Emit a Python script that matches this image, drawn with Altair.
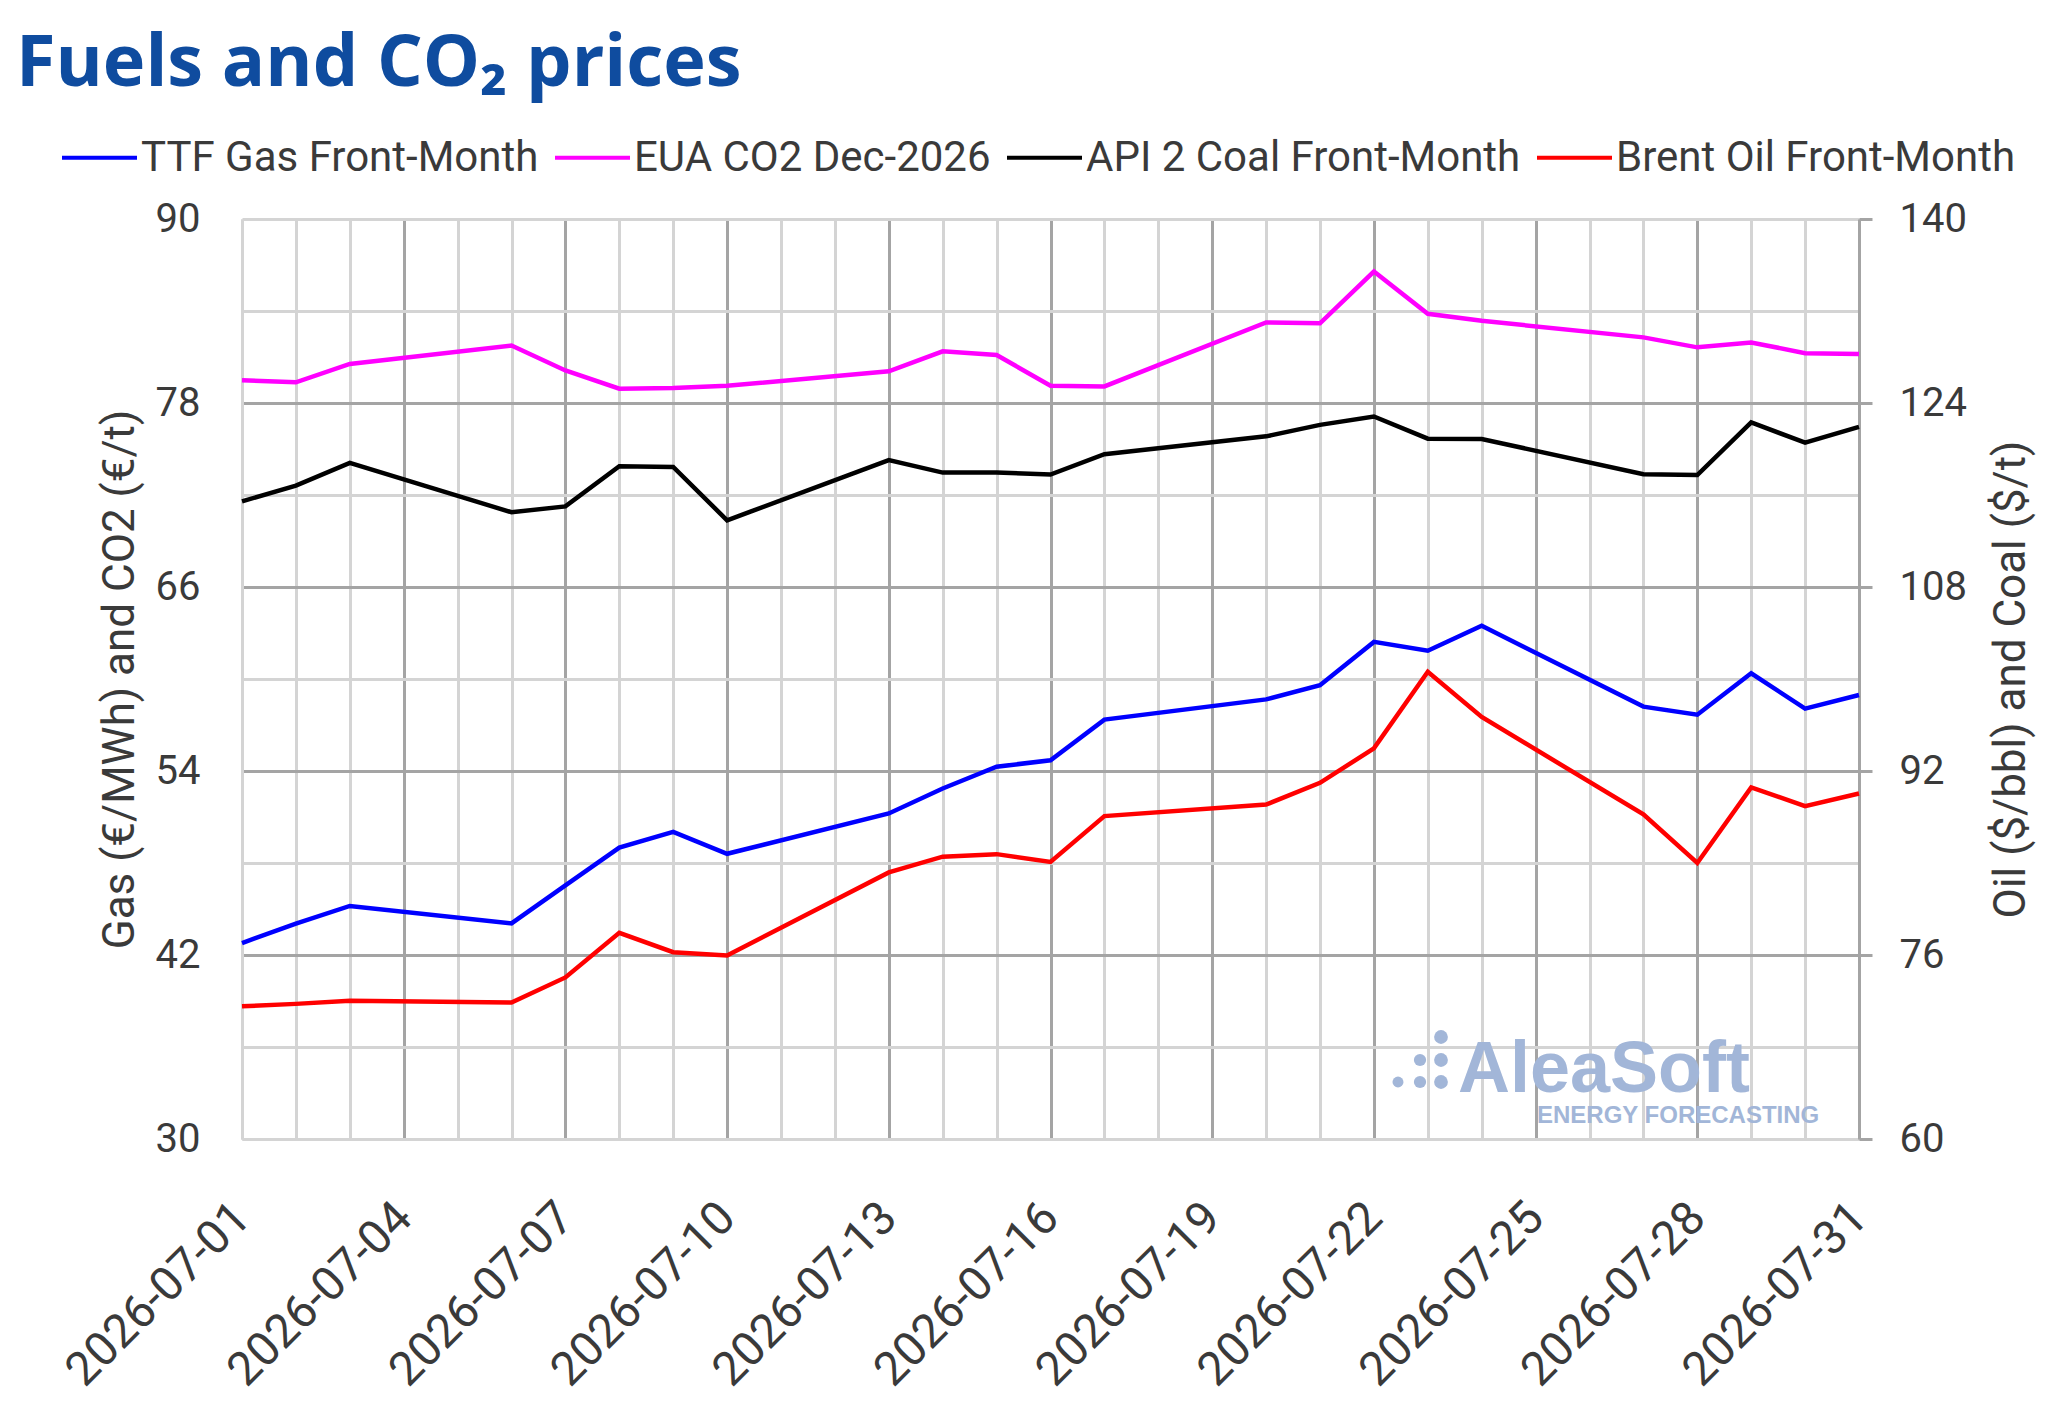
import altair as alt
import pandas as pd

# ---------------- data ----------------
dates = [
    "2026-07-01", "2026-07-02", "2026-07-03", "2026-07-06", "2026-07-07",
    "2026-07-08", "2026-07-09", "2026-07-10", "2026-07-13", "2026-07-14",
    "2026-07-15", "2026-07-16", "2026-07-17", "2026-07-20", "2026-07-21",
    "2026-07-22", "2026-07-23", "2026-07-24", "2026-07-27", "2026-07-28",
    "2026-07-29", "2026-07-30", "2026-07-31",
]
ttf_gas = [42.78, 44.05, 45.2, 44.06, 46.54, 49.0, 50.03, 48.6, 51.23, 52.86,
           54.28, 54.7, 57.35, 58.67, 59.6, 62.42, 61.84, 63.47, 58.2, 57.67,
           60.37, 58.07, 58.96]
eua_co2 = [79.48, 79.35, 80.55, 81.75, 80.12, 78.93, 78.98, 79.12, 80.07, 81.37,
           81.13, 79.13, 79.08, 83.25, 83.2, 86.57, 83.82, 83.36, 82.28, 81.63,
           81.95, 81.25, 81.2]
api2_coal = [115.45, 116.81, 118.79, 114.5, 115.01, 118.5, 118.44, 113.8, 119.04,
             117.95, 117.95, 117.78, 119.55, 121.1, 122.1, 122.83, 120.9, 120.87,
             117.81, 117.74, 122.31, 120.55, 121.92]
brent_oil = [71.54, 71.75, 72.03, 71.87, 74.05, 77.93, 76.24, 75.96, 83.18, 84.55,
             84.77, 84.09, 88.08, 89.08, 90.97, 93.97, 100.63, 96.7, 88.23, 84.0,
             90.57, 88.95, 90.04]

series_names = ["TTF Gas Front-Month", "EUA CO2 Dec-2026",
                "API 2 Coal Front-Month", "Brent Oil Front-Month"]
series_colors = ["#0000ff", "#ff00ff", "#000000", "#ff0000"]

left_ticks = [30, 36, 42, 48, 54, 60, 66, 72, 78, 84, 90]
right_ticks = [60, 76, 92, 108, 124, 140]
month_days = list(range(1, 32))

title_text = "Fuels and CO₂ prices"
left_title = "Gas (€/MWh) and CO2 (€/t)"
right_title = "Oil ($/bbl) and Coal ($/t)"
brand = "AleaSoft"
brand_sub = "ENERGY FORECASTING"

# ---------------- tables ----------------
n = len(dates)
left_df = pd.DataFrame({
    "date": dates * 2,
    "series": [series_names[0]] * n + [series_names[1]] * n,
    "value": ttf_gas + eua_co2,
})
right_df = pd.DataFrame({
    "date": dates * 2,
    "series": [series_names[2]] * n + [series_names[3]] * n,
    "value": api2_coal + brent_oil,
})
one_row = pd.DataFrame({"k": [0]})

LIGHT = "#d4d4d4"
DARK = "#a4a4a4"
TXT = "#3a3a3a"
FONT = "Roboto"

W, H = 1617, 920

day_values = [alt.DateTime(year=2026, month=7, date=d, utc=True) for d in month_days]

x_enc = alt.X(
    "date:T",
    scale=alt.Scale(type="utc", nice=False,
                    domain=[alt.DateTime(year=2026, month=7, date=1, utc=True),
                            alt.DateTime(year=2026, month=7, date=31, utc=True)]),
    axis=alt.Axis(
        title=None, values=day_values,
        labelExpr="(utcdate(datum.value) - 1) % 3 == 0 ? utcFormat(datum.value, '%Y-%m-%d') : ''",
        labelAngle=-45, labelAlign="right", labelBaseline="top",
        labelFontSize=47, labelPadding=55, labelOffset=-16,
        labelOverlap=False, labelFlush=False,
        labelLimit=1000, labelColor=TXT, labelFont=FONT,
        ticks=False, domainColor=LIGHT, domainWidth=3,
        grid=True, gridWidth=3,
        gridColor={"condition": {"test": "utcdate(datum.value) > 1 && (utcdate(datum.value) - 1) % 3 == 0",
                                 "value": DARK}, "value": LIGHT},
    ),
)

color_enc = alt.Color(
    "series:N",
    scale=alt.Scale(domain=series_names, range=series_colors),
    legend=alt.Legend(
        title=None, orient="none", legendX=-182, legendY=-101,
        direction="horizontal", symbolType="stroke", symbolSize=5625,
        symbolStrokeWidth=4, labelFontSize=42, labelFont=FONT, labelColor=TXT,
        labelOffset=2, columnPadding=8, labelLimit=1000,
    ),
)

left_lines = alt.Chart(left_df).mark_line(strokeWidth=4.5).encode(
    x=x_enc,
    y=alt.Y("value:Q",
            scale=alt.Scale(domain=[30, 90], nice=False, zero=False),
            axis=alt.Axis(
                orient="left", title=left_title, values=left_ticks,
                labelExpr="datum.value % 12 == 0 ? '' : datum.label",
                labelFontSize=40, labelPadding=42, labelColor=TXT, labelFont=FONT,
                ticks=False, domainColor=LIGHT, domainWidth=3,
                grid=True, gridWidth=3,
                gridColor={"condition": {"test": "datum.value % 12 == 0 || datum.value == 30 || datum.value == 90",
                                         "value": LIGHT}, "value": DARK},
                titleFontSize=44, titleFont=FONT, titleColor=TXT, titleFontWeight="normal",
                titleAngle=270, titleX=-109, titleY=H / 2, titleAlign="center",
                titleBaseline="alphabetic",
            )),
    color=color_enc,
)

right_lines = alt.Chart(right_df).mark_line(strokeWidth=4.5).encode(
    x=x_enc,
    y=alt.Y("value:Q",
            scale=alt.Scale(domain=[60, 140], nice=False, zero=False),
            axis=alt.Axis(
                orient="right", title=right_title, values=right_ticks,
                labelFontSize=40, labelPadding=27, labelColor=TXT, labelFont=FONT,
                ticks=True, tickSize=13, tickWidth=3, tickColor=DARK,
                domainColor=DARK, domainWidth=3, grid=False,
                titleFontSize=44, titleFont=FONT, titleColor=TXT, titleFontWeight="normal",
                titleAngle=270, titleX=165, titleY=H / 2, titleAlign="center",
                titleBaseline="alphabetic",
            )),
    color=color_enc,
)

# ---------------- watermark (decoration) ----------------
WM = "#a2b6d8"
wm_text = alt.Chart(one_row).mark_text(
    text=brand, font="Liberation Sans", fontWeight="bold", fontSize=72,
    align="left", baseline="alphabetic", color=WM,
).encode(x=alt.value(1216), y=alt.value(873))
wm_sub = alt.Chart(one_row).mark_text(
    text=brand_sub, font="Liberation Sans", fontWeight="bold", fontSize=24,
    align="left", baseline="alphabetic", color=WM,
).encode(x=alt.value(1295), y=alt.value(904))
dot_layers = []
for dx, dy, s in [(1199, 818, 190), (1178, 841, 150), (1199, 841, 190),
                  (1156, 863, 120), (1178, 863, 150), (1199, 863, 190)]:
    dot_layers.append(
        alt.Chart(one_row).mark_circle(color=WM, opacity=1).encode(
            x=alt.value(dx), y=alt.value(dy), size=alt.value(s))
    )

chart = alt.layer(
    wm_text, wm_sub, *dot_layers, left_lines, right_lines
).resolve_scale(
    y="independent"
).properties(
    width=W, height=H,
    title=alt.TitleParams(
        text=title_text, anchor="start", frame="group", dx=-226,
        fontSize=72, font="Open Sans", fontWeight="bold", color="#0f4c9f",
        offset=17,
    ),
    autosize=alt.AutoSizeParams(type="none"),
    padding={"left": 234, "top": 211, "right": 2032 - 234 - W, "bottom": 1410 - 211 - H},
    background="white",
).configure_view(stroke=None)

chart.save("out.html", embed_options={"renderer": "svg", "actions": False})
